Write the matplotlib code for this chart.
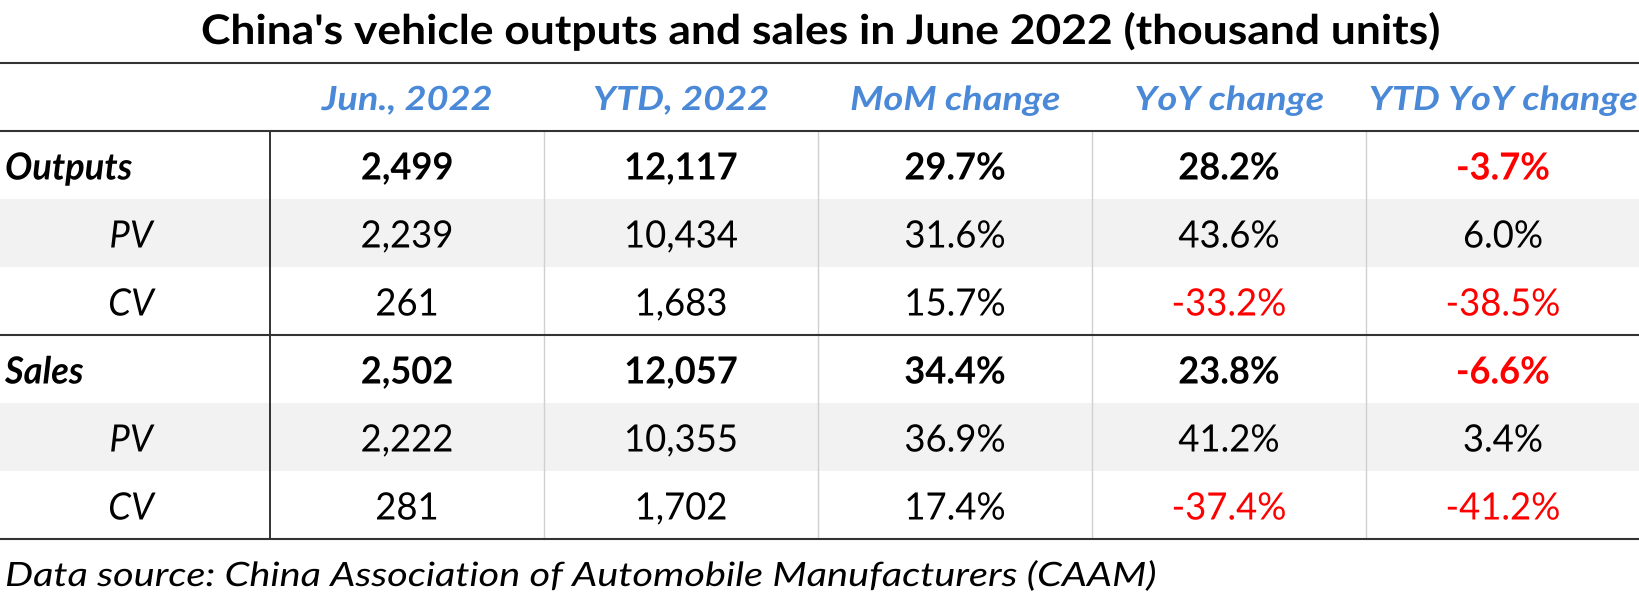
import matplotlib as mpl
import matplotlib.pyplot as plt
from matplotlib.patches import Rectangle
from matplotlib.patheffects import AbstractPathEffect
from matplotlib.transforms import Affine2D
from matplotlib.textpath import TextPath
from matplotlib.font_manager import FontProperties

mpl.use('Agg')

plt.rcParams['font.family'] = ['Lato', 'DejaVu Sans']

titulo = "China's vehicle outputs and sales in June 2022 (thousand units)"
fonte = "Data source: China Association of Automobile Manufacturers (CAAM)"

colunas = ["Jun., 2022", "YTD, 2022", "MoM change", "YoY change", "YTD YoY change"]
linhas = ["Outputs", "PV", "CV", "Sales", "PV", "CV"]
principal = [True, False, False, True, False, False]

jun_2022 = [2499, 2239, 261, 2502, 2222, 281]
ytd_2022 = [12117, 10434, 1683, 12057, 10355, 1702]
mom = [29.7, 31.6, 15.7, 34.4, 36.9, 17.4]
yoy = [28.2, 43.6, -33.2, 23.8, 41.2, -37.4]
ytd_yoy = [-3.7, 6.0, -38.5, -6.6, 3.4, -41.2]

W, H = 1640, 605
topo = 63
alt_cab = 68
alt_lin = 68
larg_rot = 270
larg_col = (W - larg_rot) / 5
azul = '#4a88d8'
vermelho = '#ff0000'


class Estreita(AbstractPathEffect):
    # comprime o texto na horizontal em torno de x0 (pixels)
    def __init__(self, sx, x0):
        super().__init__()
        self.sx = sx
        self.x0 = x0

    def draw_path(self, renderer, gc, tpath, affine, rgbFace=None):
        t = affine + Affine2D().translate(-self.x0, 0).scale(self.sx, 1).translate(self.x0, 0)
        renderer.draw_path(gc, tpath, t, rgbFace)


def estilo(texto, altura, largura, peso='normal', italico=False):
    # tamanho (pt) para a altura de maiuscula desejada e fator de compressao
    fp = FontProperties(family=['Lato', 'DejaVu Sans'], weight=peso,
                        style='italic' if italico else 'normal')
    ch = TextPath((0, 0), "H", size=100, prop=fp).get_extents().height / 100
    px = altura / ch
    lw = TextPath((0, 0), texto, size=px, prop=fp).get_extents().width
    return px * 0.72, largura / lw


fig = plt.figure(figsize=(W / 100, H / 100), dpi=100)
ax = fig.add_axes([0, 0, 1, 1])
ax.set_xlim(0, W)
ax.set_ylim(H, 0)
ax.axis('off')


def escreve(x, y, s, fs, sx, ha='center', **kw):
    ax.text(x, y, s, ha=ha, va='baseline', fontsize=fs,
            path_effects=[Estreita(sx, x)], **kw)


fs_tit, sx_tit = estilo(titulo, 29.5, 1236, 'bold')
fs_cab, sx_cab = estilo("YTD YoY change", 24, 266, 'bold', True)
fs_neg, sx_neg = estilo("12,117", 27, 110, 'bold')
fs_reg, sx_reg = estilo("10,434", 27, 110)
fs_fon, sx_fon = estilo(fonte, 24, 1148, 'normal', True)

corpo0 = topo + alt_cab
fim = corpo0 + alt_lin * len(linhas)

# faixas cinza nas linhas PV
for i, nome in enumerate(linhas):
    if nome == "PV":
        ax.add_patch(Rectangle((0, corpo0 + i * alt_lin), W, alt_lin,
                               facecolor='#f2f2f2', edgecolor='none', zorder=0))

escreve(W / 2, 44, titulo, fs_tit, sx_tit, fontweight='bold', color='black')

for j, c in enumerate(colunas):
    x = larg_rot + larg_col * (j + 0.5)
    escreve(x, 110, c, fs_cab, sx_cab, fontweight='bold', fontstyle='italic',
            color=azul)

valores = list(zip(jun_2022, ytd_2022, mom, yoy, ytd_yoy))
for i, nome in enumerate(linhas):
    base = corpo0 + alt_lin * (i + 0.5) + 14.5
    peso = 'bold' if principal[i] else 'normal'
    fs, sx = (fs_neg, sx_neg) if principal[i] else (fs_reg, sx_reg)
    if principal[i]:
        escreve(5, base, nome, fs, sx, ha='left', fontweight='bold',
                fontstyle='italic')
    else:
        escreve(131, base, nome, fs, sx, fontstyle='italic')
    for j, v in enumerate(valores[i]):
        x = larg_rot + larg_col * (j + 0.5)
        if j < 2:
            s = "{:,}".format(v)
            cor = 'black'
        else:
            s = "{:.1f}%".format(v)
            cor = vermelho if v < 0 else 'black'
        escreve(x, base, s, fs, sx, fontweight=peso, color=cor)

# linhas da tabela
for j in range(1, 5):
    x = larg_rot + larg_col * j
    ax.plot([x, x], [corpo0, fim], color='#d0d0d0', lw=1)
ax.plot([larg_rot, larg_rot], [corpo0, fim], color='#222222', lw=1.3)
for y in [topo, corpo0, corpo0 + 3 * alt_lin, fim]:
    ax.plot([0, W], [y, y], color='#333333', lw=1.5)

escreve(5, 586, fonte, fs_fon, sx_fon, ha='left', fontstyle='italic')

plt.savefig('out.png', dpi=100)
